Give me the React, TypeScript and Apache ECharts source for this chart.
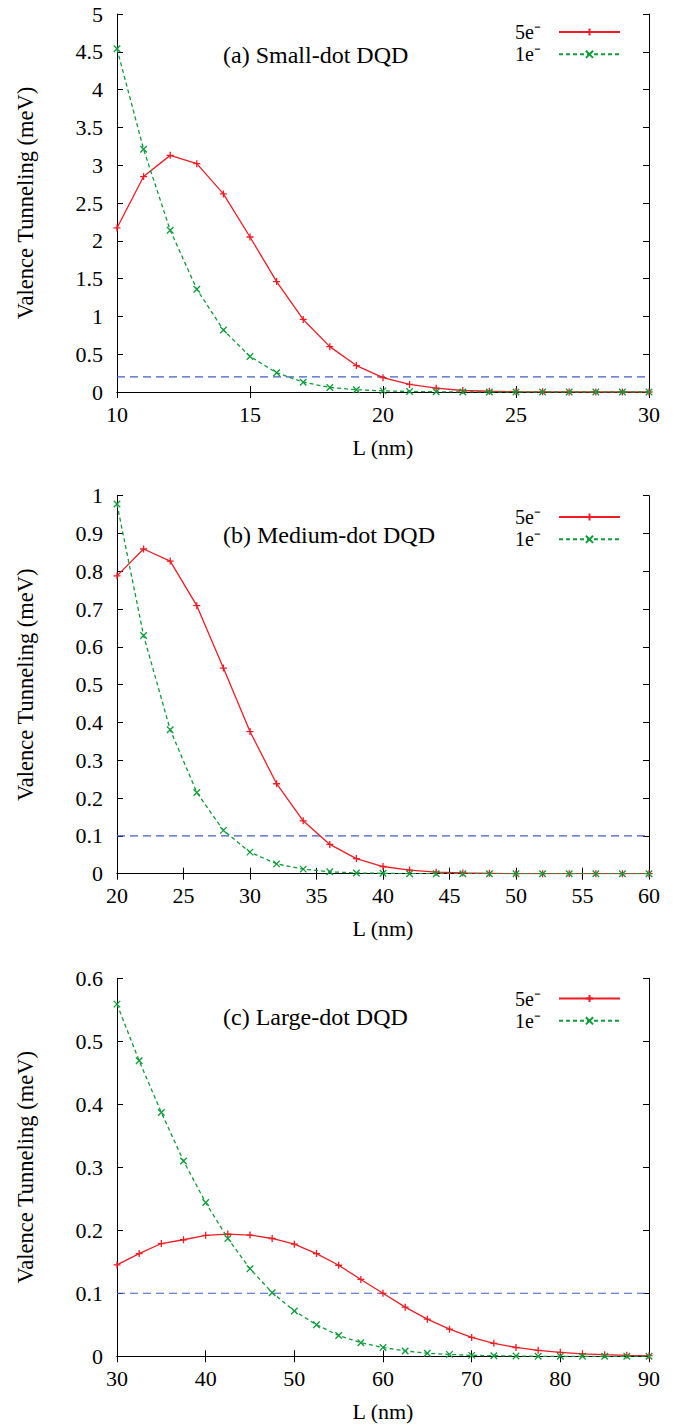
import React, { useEffect, useRef } from "react";
import * as echarts from "echarts";

// ---- data ----
const xA = [10, 11, 12, 13, 14, 15, 16, 17, 18, 19, 20, 21, 22, 23, 24, 25, 26, 27, 28, 29, 30];
const a5e = [2.17, 2.85, 3.13, 3.02, 2.62, 2.05, 1.46, 0.96, 0.6, 0.35, 0.19, 0.1, 0.05, 0.02, 0.01, 0.005, 0.002, 0.001, 0, 0, 0];
const a1e = [4.54, 3.21, 2.14, 1.36, 0.82, 0.47, 0.255, 0.13, 0.06, 0.03, 0.015, 0.007, 0.003, 0.001, 0, 0, 0, 0, 0, 0, 0];
const thrA = 0.2;

const xB = [20, 22, 24, 26, 28, 30, 32, 34, 36, 38, 40, 42, 44, 46, 48, 50, 52, 54, 56, 58, 60];
const b5e = [0.788, 0.859, 0.827, 0.709, 0.544, 0.376, 0.238, 0.14, 0.0775, 0.04, 0.019, 0.0097, 0.004, 0.002, 0.001, 0, 0, 0, 0, 0, 0];
const b1e = [0.978, 0.63, 0.381, 0.215, 0.1146, 0.057, 0.026, 0.012, 0.005, 0.002, 0.001, 0, 0, 0, 0, 0, 0, 0, 0, 0, 0];
const thrB = 0.1;

const xC = [30, 32.5, 35, 37.5, 40, 42.5, 45, 47.5, 50, 52.5, 55, 57.5, 60, 62.5, 65, 67.5, 70, 72.5, 75, 77.5, 80, 82.5, 85, 87.5, 90];
const c5e = [0.145, 0.163, 0.179, 0.185, 0.192, 0.194, 0.1925, 0.187, 0.178, 0.163, 0.1445, 0.122, 0.1, 0.078, 0.059, 0.043, 0.03, 0.0206, 0.014, 0.0095, 0.0063, 0.004, 0.0025, 0.0015, 0.001];
const c1e = [0.559, 0.469, 0.387, 0.31, 0.244, 0.187, 0.139, 0.101, 0.072, 0.05, 0.033, 0.0216, 0.014, 0.0085, 0.0048, 0.003, 0.0015, 0.001, 0.0005, 0, 0, 0, 0, 0, 0];
const thrC = 0.1;

const titles = ["(a) Small-dot DQD", "(b) Medium-dot DQD", "(c) Large-dot DQD"];
const xRanges = [[10, 30, 5], [20, 60, 5], [30, 90, 10]];
const yRanges = [[0, 5, 0.5], [0, 1, 0.1], [0, 0.6, 0.1]];
const seriesNames = ["5e⁻", "1e⁻"];

// ---- layout / style ----
const FONT = "Liberation Serif";
const RED = "#f01c24";
const GREEN = "#0f9c3a";
const BLUE = "#3f5fc8";
const gridTops = [14, 495.7, 978.3];
const gridH = 378;
const legendTops = [21, 506, 987.5];
const titleTops = [43, 523, 1005];
const PLUS = "path://M5,0 L5,10 M0,5 L10,5";
const CROSS = "path://M0,0 L10,10 M10,0 L0,10";

const panels = [
  { x: xA, s5: a5e, s1: a1e, thr: thrA },
  { x: xB, s5: b5e, s1: b1e, thr: thrB },
  { x: xC, s5: c5e, s1: c1e, thr: thrC },
];

function buildOption() {
  const grid: any[] = [];
  const xAxis: any[] = [];
  const yAxis: any[] = [];
  const series: any[] = [];
  const legend: any[] = [];
  const title: any[] = [];

  panels.forEach((p, i) => {
    grid.push({ left: 117, right: 30, top: gridTops[i], height: gridH });
    const [xmin, xmax, xint] = xRanges[i];
    const [ymin, ymax, yint] = yRanges[i];
    const tick = { inside: true, length: 6, lineStyle: { color: "#000", width: 1 } };
    const line = { show: true, lineStyle: { color: "#000", width: 1 } };
    xAxis.push({
      type: "value", gridIndex: i, min: xmin, max: xmax, interval: xint, position: "bottom",
      axisLine: line, axisTick: tick, splitLine: { show: false },
      axisLabel: { fontFamily: FONT, fontSize: 22, color: "#000", margin: 11 },
      name: "L (nm)", nameLocation: "middle", nameGap: 44,
      nameTextStyle: { fontFamily: FONT, fontSize: 22, color: "#000" },
    });
    xAxis.push({
      type: "value", gridIndex: i, min: xmin, max: xmax, interval: xint, position: "top",
      axisLine: line, axisTick: tick, splitLine: { show: false }, axisLabel: { show: false },
    });
    yAxis.push({
      type: "value", gridIndex: i, min: ymin, max: ymax, interval: yint, position: "left",
      axisLine: line, axisTick: tick, splitLine: { show: false },
      axisLabel: { fontFamily: FONT, fontSize: 22, color: "#000", margin: 14 },
      name: "Valence Tunneling (meV)", nameLocation: "middle", nameGap: 80,
      nameTextStyle: { fontFamily: FONT, fontSize: 22.5, color: "#000" },
    });
    yAxis.push({
      type: "value", gridIndex: i, min: ymin, max: ymax, interval: yint, position: "right",
      axisLine: line, axisTick: tick, splitLine: { show: false }, axisLabel: { show: false },
    });
    const xi = i * 2;
    const yi = i * 2;
    series.push({
      type: "line", name: seriesNames[0], xAxisIndex: xi, yAxisIndex: yi,
      data: p.x.map((x, k) => [x, p.s5[k]]),
      symbol: PLUS, symbolSize: 7, showSymbol: true,
      lineStyle: { color: RED, width: 1.3, type: "solid" },
      itemStyle: { color: RED, borderColor: RED, borderWidth: 1.3 },
      z: 3,
    });
    series.push({
      type: "line", name: seriesNames[1], xAxisIndex: xi, yAxisIndex: yi,
      data: p.x.map((x, k) => [x, p.s1[k]]),
      symbol: CROSS, symbolSize: 6.5, showSymbol: true,
      lineStyle: { color: GREEN, width: 1.3, type: [4, 3] },
      itemStyle: { color: GREEN, borderColor: GREEN, borderWidth: 1.3 },
      z: 4,
    });
    series.push({
      type: "line", name: "threshold", xAxisIndex: xi, yAxisIndex: yi,
      data: [[xmin, p.thr], [xmax, p.thr]],
      symbol: "none", lineStyle: { color: BLUE, width: 1.1, type: [8, 5] },
      z: 2, silent: true,
    });
    legend.push({
      data: seriesNames, orient: "vertical", right: 58, top: legendTops[i], padding: 0,
      itemGap: 0.3, itemWidth: 61, itemHeight: 9, align: "right", selectedMode: false,
      formatter: (name: string) => name + "{g|}",
      textStyle: {
        fontFamily: FONT, fontSize: 20, color: "#000", lineHeight: 22,
        rich: { g: { width: 13 } },
      },
    });
    title.push({
      text: titles[i], left: 223, top: titleTops[i], padding: 0,
      textStyle: { fontFamily: FONT, fontSize: 24, fontWeight: "normal", color: "#000" },
    });
  });

  return { animation: false, backgroundColor: "#fff", textStyle: { fontFamily: FONT }, grid, xAxis, yAxis, series, legend, title };
}

export default function App() {
  const ref = useRef<HTMLDivElement>(null);
  useEffect(() => {
    document.body.style.margin = "0";
    if (!ref.current) return;
    const chart = echarts.init(ref.current, null, { renderer: "svg" });
    chart.setOption(buildOption());
    return () => chart.dispose();
  }, []);
  return <div ref={ref} style={{ width: 679, height: 1426, position: "absolute", left: 0, top: 0 }} />;
}
